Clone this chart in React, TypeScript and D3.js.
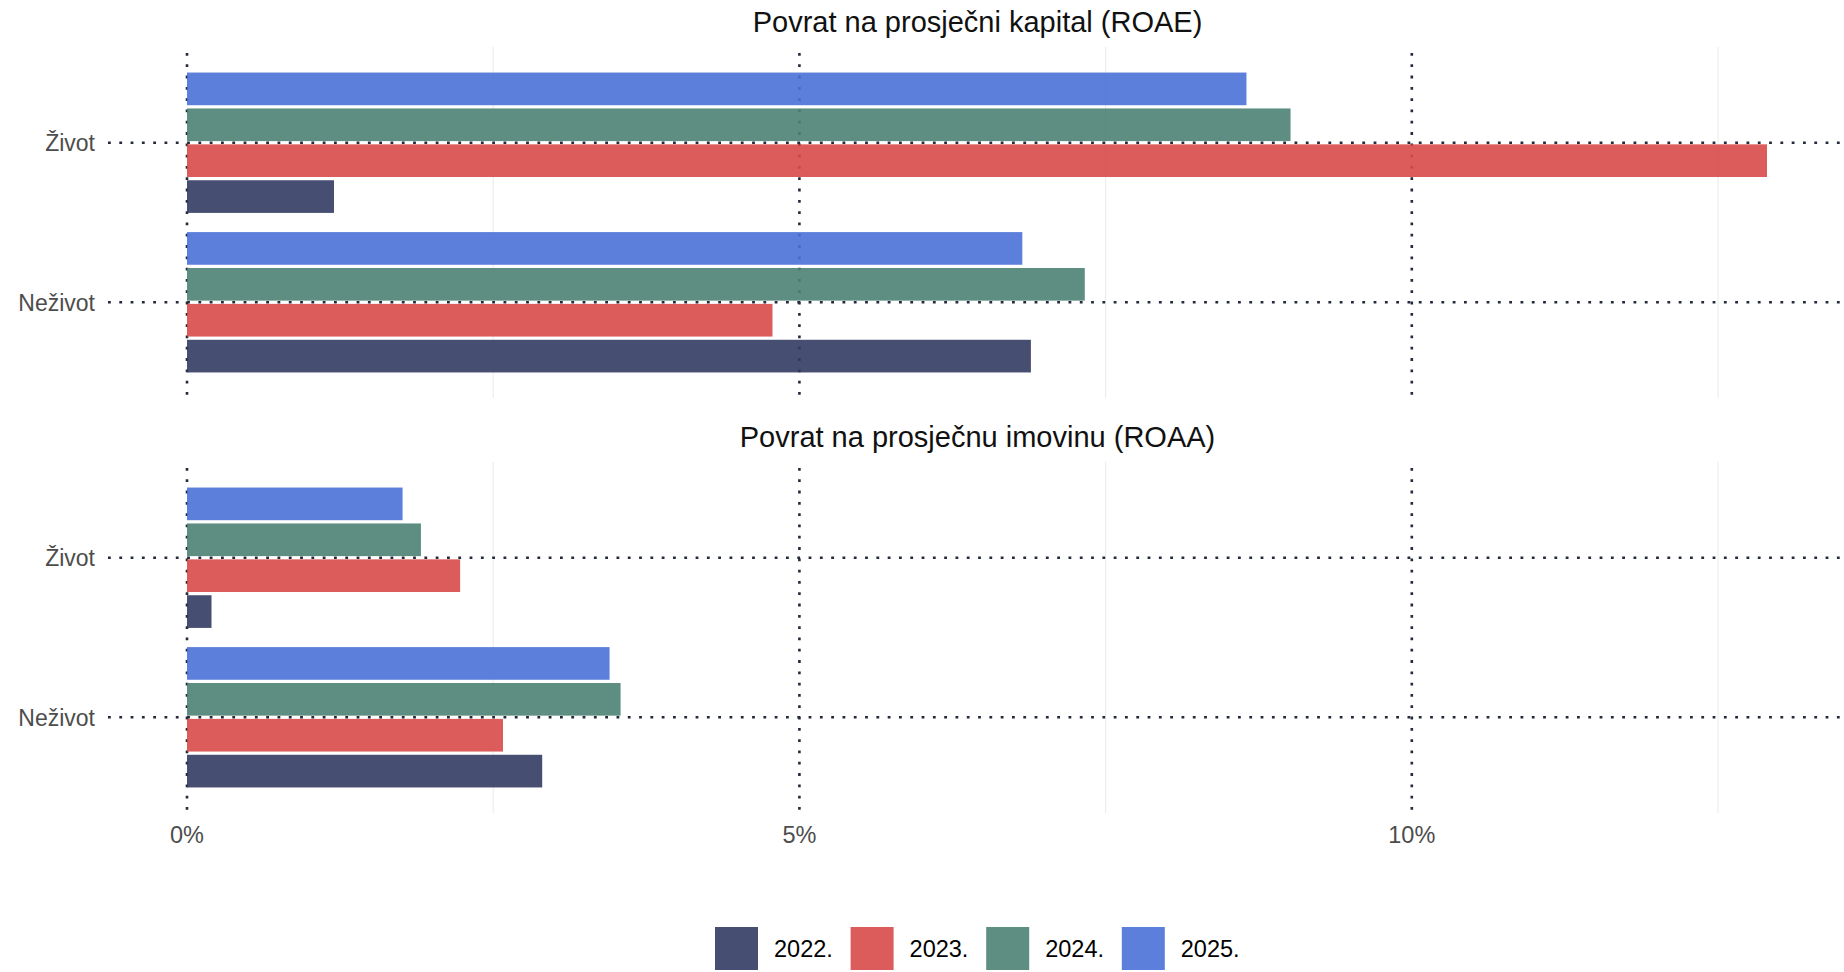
import React from "react";
import * as d3 from "d3";

const categories = ["Život", "Neživot"];
const years = ["2022.", "2023.", "2024.", "2025."];
const yearColors = ["#323b62", "#d74a48", "#4d8274", "#4971d7"];

// vrijednosti u %, redoslijed kao years
const roaeZivot = [1.2, 12.9, 9.01, 8.65];
const roaeNezivot = [6.89, 4.78, 7.33, 6.82];
const roaaZivot = [0.2, 2.23, 1.91, 1.76];
const roaaNezivot = [2.9, 2.58, 3.54, 3.45];

const xTicks = [0, 5, 10];
const xMinor = [2.5, 7.5, 12.5];

const panels = [
  { title: "Povrat na prosječni kapital (ROAE)", values: [roaeZivot, roaeNezivot], top: 47, bottom: 398 },
  { title: "Povrat na prosječnu imovinu (ROAA)", values: [roaaZivot, roaaNezivot], top: 462, bottom: 813 },
];

const W = 1844;
const H = 972;
const font = "'Liberation Sans', Arial, sans-serif";
const dotColor = "#232a3b";
const dash = "2.8,8.5";

const App: React.FC = () => {
  const maxVal = d3.max([...roaeZivot, ...roaeNezivot, ...roaaZivot, ...roaaNezivot]) as number;
  const pad = maxVal * 0.05;
  const x = d3.scaleLinear().domain([-pad, maxVal + pad]).range([108, 1846]);
  const x0 = 108;
  const x1 = 1843;

  return (
    <svg width={W} height={H} style={{ position: "absolute", left: 0, top: 0, background: "#fff" }} fontFamily={font}>
      {panels.map((p, pi) => {
        const y = d3.scalePoint<string>().domain(categories).range([p.top, p.bottom]).padding(0.6);
        const step = y.step();
        const yy = d3
          .scaleBand<string>()
          .domain([...years].reverse())
          .range([-0.45 * step, 0.45 * step])
          .paddingInner(0.09)
          .paddingOuter(0.045);
        return (
          <g key={pi}>
            <text x={(x0 + x1) / 2 + 2} y={p.top - 15.5} textAnchor="middle" fontSize={29} fill="#111">
              {p.title}
            </text>
            {xMinor.map((t) => (
              <line key={t} x1={x(t)} x2={x(t)} y1={p.top} y2={p.bottom} stroke="#ebebeb" strokeWidth={1.1} />
            ))}
            {xTicks.map((t) => (
              <line key={t} x1={x(t)} x2={x(t)} y1={p.top + 6} y2={p.bottom} stroke={dotColor} strokeWidth={2.6} strokeDasharray={dash} />
            ))}
            {categories.map((c) => (
              <g key={c}>
                <line x1={x0} x2={W} y1={y(c)} y2={y(c)} stroke={dotColor} strokeWidth={2.6} strokeDasharray={dash} />
                <text x={95} y={(y(c) as number) + 8.5} textAnchor="end" fontSize={23} fill="#4d4d4d">
                  {c}
                </text>
              </g>
            ))}
            {categories.map((c, ci) =>
              years.map((yr, i) => (
                <rect
                  key={c + yr}
                  x={x(0)}
                  y={(y(c) as number) + (yy(yr) as number)}
                  width={x(p.values[ci][i]) - x(0)}
                  height={yy.bandwidth()}
                  fill={yearColors[i]}
                  fillOpacity={0.9}
                />
              ))
            )}
          </g>
        );
      })}
      {xTicks.map((t) => (
        <text key={t} x={x(t)} y={842.5} textAnchor="middle" fontSize={23.5} fill="#4d4d4d">
          {t}%
        </text>
      ))}
      {years.map((yr, i) => {
        const lx = 715 + i * 135.6;
        return (
          <g key={yr}>
            <rect x={lx} y={927} width={43} height={43} fill={yearColors[i]} fillOpacity={0.9} />
            <text x={lx + 59} y={957} fontSize={23.5} fill="#000">
              {yr}
            </text>
          </g>
        );
      })}
    </svg>
  );
};

export default App;
